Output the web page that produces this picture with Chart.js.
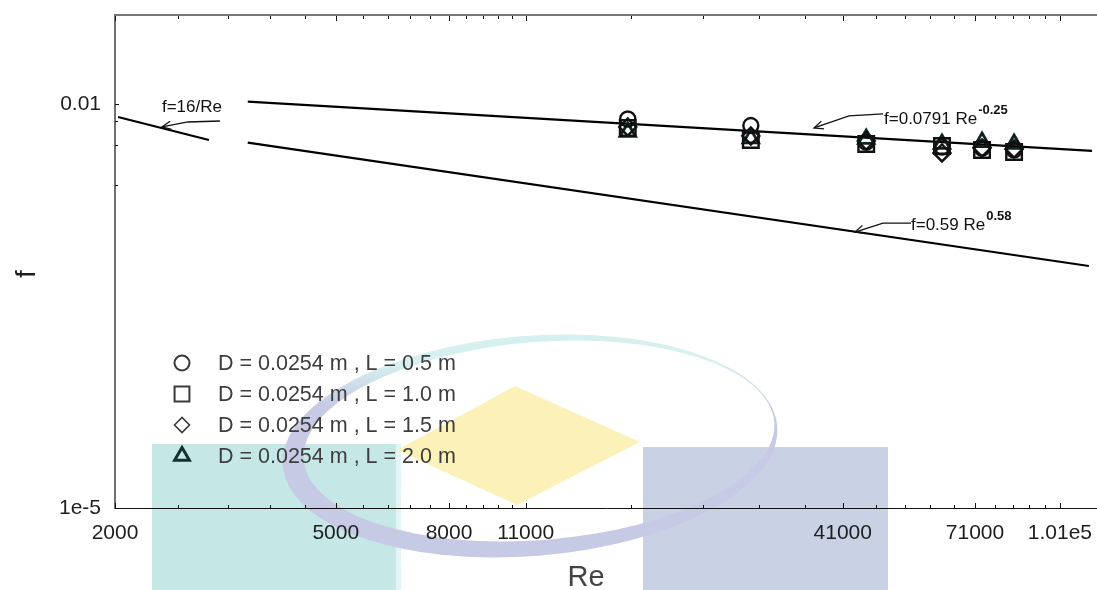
<!DOCTYPE html>
<html>
<head>
<meta charset="utf-8">
<script src="https://cdn.jsdelivr.net/npm/chart.js@4.4.1/dist/chart.umd.min.js"></script>
<style>
  html, body { margin: 0; padding: 0; background: #fff; }
  #wrap { width: 1097px; height: 590px; position: relative; }
</style>
</head>
<body>
<div id="wrap"><canvas id="chart" width="1097" height="590"></canvas></div>
<script>
// Measured friction factors against Reynolds number, one series per pipe length
const reynolds = [16800, 28000, 45200, 61900, 73100, 83500];
const fLen05 = [0.00774, 0.00692, 0.00522, 0.00479, 0.00471, 0.00456];
const fLen10 = [0.00664, 0.00540, 0.00505, 0.00488, 0.00456, 0.00440];
const fLen15 = [0.00675, 0.00579, 0.00531, 0.00433, 0.00471, 0.00463];
const fLen20 = [0.00620, 0.00555, 0.00550, 0.00505, 0.00522, 0.00505];
const seriesLabels = [
  'D = 0.0254 m , L = 0.5 m',
  'D = 0.0254 m , L = 1.0 m',
  'D = 0.0254 m , L = 1.5 m',
  'D = 0.0254 m , L = 2.0 m'
];

// Reference correlations (straight on log-log axes): end points
const blasiusRe = [3470, 115400];
const blasiusF = [0.0104, 0.00448];
const fitRe = [3470, 113900];
const fitF = [0.00516, 0.000627];
const laminarRe = [2025, 2954];
const laminarF = [0.0080, 0.0054];

// Axis ticks
const xMajorTicks = [2000, 5000, 8000, 11000, 41000, 71000, 101000];
const xTickLabels = ['2000', '5000', '8000', '11000', '41000', '71000', '1.01e5'];
const xMinorTicks = [2600, 3200, 3800, 4400, 5600, 6200, 6800, 7400, 8600, 9200, 9800, 10400,
  17000, 23000, 29000, 35000, 47000, 53000, 59000, 65000, 77000, 83000, 89000, 95000];
const yMajorTicks = [0.01, 1e-5];
const yTickLabels = ['0.01', '1e-5'];
const yMinorTicks = [0.0075, 0.005, 0.0025];

// Correlation labels with leader arrows (tip given in data units)
const noteTexts = ['f=16/Re', 'f=0.0791 Re', 'f=0.59 Re'];
const noteExponents = ['', '-0.25', '0.58'];
const noteTipRe = [2430, 36400, 43140];
const noteTipF = [0.00675, 0.00664, 0.00112];

const FONT = '"Liberation Sans", Arial, Helvetica, sans-serif';
Chart.defaults.font.family = FONT;

const pts = (xs, ys) => xs.map((x, i) => ({ x: x, y: ys[i] }));

const markerStyles = [
  { pointStyle: 'circle', radius: 7.5, width: 2.4, color: '#111', legendColor: '#3a3a3a', legendWidth: 2, legendRadius: 7.5 },
  { pointStyle: 'rect', radius: 11, width: 2.4, color: '#111', legendColor: '#3a3a3a', legendWidth: 2, legendRadius: 10.5 },
  { pointStyle: 'rectRot', radius: 8.5, width: 2.4, color: '#111', legendColor: '#3a3a3a', legendWidth: 1.6, legendRadius: 7.5 },
  { pointStyle: 'triangle', radius: 9, width: 2.8, color: '#0f2424', legendColor: '#143030', legendWidth: 3, legendRadius: 8.5 }
];
const seriesValues = [fLen05, fLen10, fLen15, fLen20];

const markerSets = seriesValues.map((vals, i) => ({
  label: seriesLabels[i],
  data: pts(reynolds, vals),
  showLine: false,
  pointStyle: markerStyles[i].pointStyle,
  pointRadius: markerStyles[i].radius,
  pointBorderWidth: markerStyles[i].width,
  pointBorderColor: markerStyles[i].color,
  pointBackgroundColor: 'rgba(0,0,0,0)',
  borderColor: markerStyles[i].color
}));

const curve = (label, xs, ys) => ({
  label: label,
  data: pts(xs, ys),
  showLine: true,
  pointRadius: 0,
  borderWidth: 2.2,
  borderColor: '#000',
  fill: false,
  tension: 0
});

const lineSets = [
  curve('f=0.0791 Re^-0.25', blasiusRe, blasiusF),
  curve('f=0.59 Re^0.58', fitRe, fitF),
  curve('f=16/Re', laminarRe, laminarF)
];

// Faint emblem behind the plot
function drawEmblem(ctx) {
  ctx.save();
  ctx.fillStyle = '#c5e8e6';
  ctx.fillRect(152, 444, 244, 146);
  ctx.fillStyle = '#e2f4f3';
  ctx.fillRect(396, 444, 5, 146);
  ctx.fillStyle = '#c9d1e5';
  ctx.fillRect(643, 447, 245, 143);
  ctx.fillStyle = '#fcf1b8';
  ctx.beginPath();
  ctx.moveTo(515, 386);
  ctx.lineTo(640, 442);
  ctx.lineTo(517, 505);
  ctx.lineTo(397, 450);
  ctx.closePath();
  ctx.fill();
  const g = ctx.createLinearGradient(0, 405, 0, 365);
  g.addColorStop(0, '#c7cae4');
  g.addColorStop(1, '#d6efef');
  ctx.fillStyle = g;
  ctx.beginPath();
  ctx.ellipse(530, 446, 248, 110, -0.08, 0, Math.PI * 2);
  ctx.ellipse(539, 441, 236, 99, -0.08, 0, Math.PI * 2);
  ctx.fill('evenodd');
  ctx.restore();
}

function seg(ctx, x1, y1, x2, y2) {
  ctx.beginPath();
  ctx.moveTo(x1, y1);
  ctx.lineTo(x2, y2);
  ctx.stroke();
}

const frictionPlugin = {
  id: 'frictionDecor',
  beforeDraw(chart) {
    const ctx = chart.ctx;
    ctx.save();
    ctx.fillStyle = '#fff';
    ctx.fillRect(0, 0, chart.width, chart.height);
    ctx.restore();
    drawEmblem(ctx);
  },
  afterDatasetsDraw(chart) {
    const { ctx, chartArea: a, scales: { x, y } } = chart;
    ctx.save();

    // top frame line
    ctx.strokeStyle = '#777';
    ctx.lineWidth = 2;
    seg(ctx, a.left, a.top, a.right, a.top);

    // inward tick marks
    ctx.strokeStyle = '#111';
    ctx.lineWidth = 1;
    const xt = xMajorTicks.map(v => [v, 5]).concat(xMinorTicks.map(v => [v, 3]));
    xt.forEach(([v, len]) => {
      const px = Math.round(x.getPixelForValue(v)) + 0.5;
      seg(ctx, px, a.bottom, px, a.bottom - len);
      seg(ctx, px, a.top + 1, px, a.top + 1 + len);
    });
    const yt = yMajorTicks.map(v => [v, 4]).concat(yMinorTicks.map(v => [v, 3]));
    yt.forEach(([v, len]) => {
      const py = Math.round(y.getPixelForValue(v)) + 0.5;
      seg(ctx, a.left, py, a.left + len, py);
    });

    // correlation labels with arrows
    const leader = [
      { elbow: [26, -5], tail: [58, -6], text: [0, -15], sup: 0 },
      { elbow: [35, -12], tail: [69, -14], text: [70, -4], sup: -14 },
      { elbow: [28, -9], tail: [56, -9], text: [56, -2], sup: -12 }
    ];
    ctx.strokeStyle = '#111';
    ctx.fillStyle = '#111';
    ctx.lineWidth = 1.3;
    noteTexts.forEach((t, i) => {
      const tx = x.getPixelForValue(noteTipRe[i]);
      const ty = y.getPixelForValue(noteTipF[i]);
      const L = leader[i];
      const ex = tx + L.elbow[0], ey = ty + L.elbow[1];
      ctx.beginPath();
      ctx.moveTo(tx + L.tail[0], ty + L.tail[1]);
      ctx.lineTo(ex, ey);
      ctx.lineTo(tx, ty);
      ctx.stroke();
      const ang = Math.atan2(ey - ty, ex - tx);
      const arm = 10, spread = 0.42;
      ctx.beginPath();
      ctx.moveTo(tx + arm * Math.cos(ang + spread), ty + arm * Math.sin(ang + spread));
      ctx.lineTo(tx, ty);
      ctx.lineTo(tx + arm * Math.cos(ang - spread), ty + arm * Math.sin(ang - spread));
      ctx.stroke();
      ctx.font = '17px ' + FONT;
      ctx.textAlign = 'left';
      ctx.textBaseline = 'alphabetic';
      const lx = tx + L.text[0], ly = ty + L.text[1];
      ctx.fillText(t, lx, ly);
      if (noteExponents[i]) {
        const w = ctx.measureText(t).width;
        ctx.font = 'bold 13px ' + FONT;
        ctx.fillText(noteExponents[i], lx + w + 1, ty + L.sup);
      }
    });

    // legend inside plot
    const lgX = a.left + 67, lgY = a.top + 348, lgDy = 31;
    chart.data.datasets.forEach((ds, i) => {
      if (i >= markerStyles.length) return;
      const m = markerStyles[i];
      const cy = lgY + i * lgDy;
      ctx.strokeStyle = m.legendColor;
      ctx.fillStyle = 'rgba(0,0,0,0)';
      ctx.lineWidth = m.legendWidth;
      Chart.helpers.drawPoint(ctx, {
        pointStyle: m.pointStyle, radius: m.legendRadius,
        rotation: 0, borderWidth: m.legendWidth
      }, lgX, cy);
      ctx.fillStyle = '#3d3d3d';
      ctx.font = '21.5px ' + FONT;
      ctx.textAlign = 'left';
      ctx.textBaseline = 'middle';
      ctx.fillText(ds.label, lgX + 36, cy + 1);
    });

    // axis titles
    ctx.fillStyle = '#444';
    ctx.font = '29px ' + FONT;
    ctx.textAlign = 'center';
    ctx.textBaseline = 'middle';
    ctx.fillText('Re', 586, 578);
    ctx.save();
    ctx.translate(27, 274);
    ctx.rotate(-Math.PI / 2);
    ctx.fillStyle = '#1e1e1e';
    ctx.font = '28px ' + FONT;
    ctx.fillText('f', 0, 0);
    ctx.restore();

    ctx.restore();
  }
};

new Chart(document.getElementById('chart'), {
  type: 'scatter',
  data: { datasets: markerSets.concat(lineSets) },
  options: {
    responsive: false,
    animation: false,
    devicePixelRatio: 1,
    events: [],
    layout: { autoPadding: false, padding: { top: 15, right: 0, bottom: 0, left: 0 } },
    plugins: { legend: { display: false }, tooltip: { enabled: false } },
    scales: {
      x: {
        type: 'logarithmic',
        position: 'bottom',
        min: 2000,
        max: 117800,
        grid: { display: false, drawTicks: false },
        border: { display: true, color: '#111', width: 1 },
        afterBuildTicks: s => { s.ticks = xMajorTicks.map(v => ({ value: v })); },
        afterFit: s => {
          s.height = 82;
          s.paddingLeft = 0; s.paddingRight = 0; s.paddingTop = 0; s.paddingBottom = 0;
        },
        ticks: {
          autoSkip: false,
          maxRotation: 0,
          padding: 13,
          color: '#1e1e1e',
          font: { size: 21, family: FONT },
          callback: v => { const i = xMajorTicks.indexOf(v); return i >= 0 ? xTickLabels[i] : ''; }
        }
      },
      y: {
        type: 'logarithmic',
        position: 'left',
        min: 1e-5,
        max: 0.0458,
        grid: { display: false, drawTicks: false },
        border: { display: true, color: '#707070', width: 2 },
        afterBuildTicks: s => { s.ticks = yMajorTicks.map(v => ({ value: v })); },
        afterFit: s => {
          s.width = 115;
          s.paddingLeft = 0; s.paddingRight = 0; s.paddingTop = 0; s.paddingBottom = 0;
        },
        ticks: {
          autoSkip: false,
          padding: 14,
          color: '#1e1e1e',
          font: { size: 21, family: FONT },
          callback: v => { const i = yMajorTicks.indexOf(v); return i >= 0 ? yTickLabels[i] : ''; }
        }
      }
    }
  },
  plugins: [frictionPlugin]
});
</script>
</body>
</html>
